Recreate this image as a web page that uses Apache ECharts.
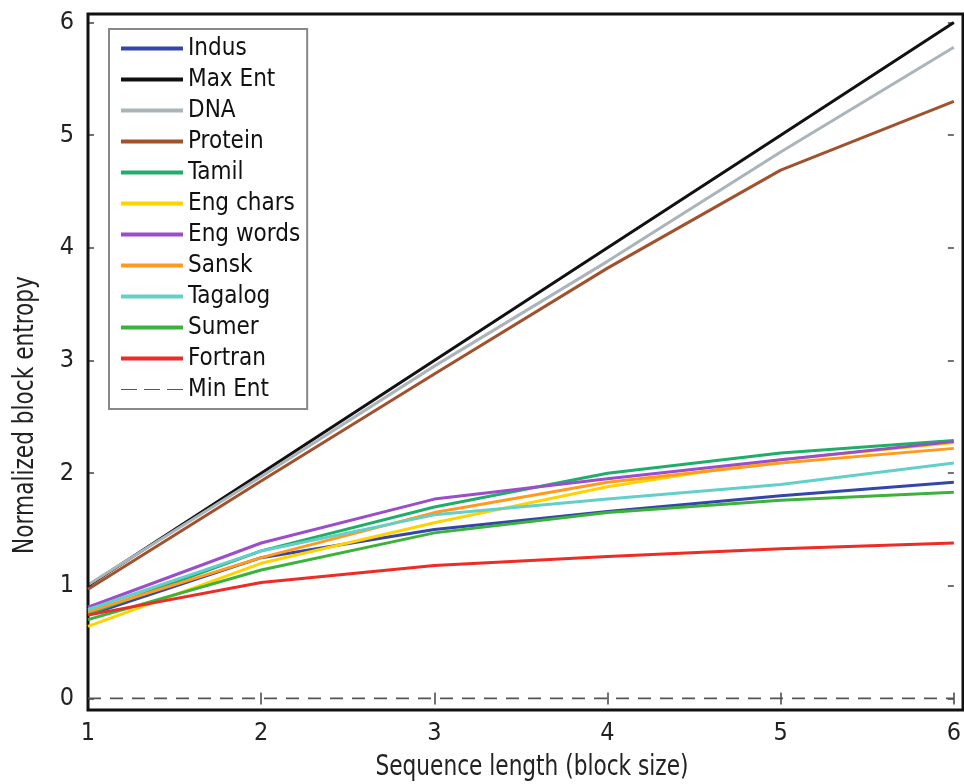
<!DOCTYPE html>
<html><head><meta charset="utf-8">
<script src="https://cdn.jsdelivr.net/npm/echarts@6/dist/echarts.min.js"></script>
<style>html,body{margin:0;padding:0;background:#fff}#c{width:964px;height:784px}</style>
</head><body><div id="c"></div>
<script>
var FONT = "'Liberation Sans Narrow','DejaVu Sans Condensed','Roboto',sans-serif";
var blockSizes = [1, 2, 3, 4, 5, 6];
var xTicks = [1, 2, 3, 4, 5, 6];
var yTicks = [0, 1, 2, 3, 4, 5, 6];
var seriesNames = ['Indus','Max Ent','DNA','Protein','Tamil','Eng chars','Eng words','Sansk','Tagalog','Sumer','Fortran','Min Ent'];
var indus    = [0.74, 1.25, 1.50, 1.66, 1.80, 1.92];
var maxEnt   = [1.00, 2.00, 3.00, 4.00, 5.00, 6.00];
var dna      = [1.01, 1.97, 2.95, 3.88, 4.85, 5.78];
var protein  = [0.97, 1.93, 2.88, 3.82, 4.69, 5.30];
var tamil    = [0.75, 1.31, 1.70, 2.00, 2.18, 2.29];
var engChars = [0.64, 1.20, 1.56, 1.88, 2.12, 2.27];
var engWords = [0.81, 1.38, 1.77, 1.95, 2.12, 2.28];
var sansk    = [0.77, 1.25, 1.65, 1.92, 2.09, 2.22];
var tagalog  = [0.79, 1.31, 1.63, 1.77, 1.90, 2.09];
var sumer    = [0.70, 1.14, 1.47, 1.65, 1.76, 1.83];
var fortran  = [0.74, 1.03, 1.18, 1.26, 1.33, 1.38];
var minEnt   = [0, 0, 0, 0, 0, 0];

var values = [indus, maxEnt, dna, protein, tamil, engChars, engWords, sansk, tagalog, sumer, fortran, minEnt];
var colors = ['#3446a8','#111111','#aab4b9','#a0522d','#1fae6a','#ffd200','#9b4dca','#ff9a1f','#62cfca','#3bb33b','#ee2b24','#555555'];

function pairs(arr){ return blockSizes.map(function(x,i){ return [x, arr[i]]; }); }

var series = seriesNames.map(function(n, i){
  var dashed = n === 'Min Ent';
  return {
    name: n, type: 'line', xAxisIndex: 0, yAxisIndex: 0,
    data: pairs(values[i]), symbol: 'none', silent: true,
    lineStyle: { color: colors[i], width: dashed ? 2 : 3, type: dashed ? [13, 9] : 'solid' },
    itemStyle: { color: colors[i] },
    z: 2 + i
  };
});

var DASH_ICON = 'path://M0,0H16V1H0Z M23,0H39V1H23Z M46,0H62V1H46Z';
var legendData = seriesNames.map(function(n){
  return { name: n, icon: n === 'Min Ent' ? DASH_ICON : 'rect' };
});

var chart = echarts.init(document.getElementById('c'), null, {renderer: 'canvas'});
chart.setOption({
  animation: false,
  backgroundColor: '#fff',
  grid: [
    { left: 88, right: 1, top: 22.5, bottom: 85.5, show: false },
    { left: 88, right: 1, top: 14, bottom: 74, show: true, borderColor: '#111', borderWidth: 3, backgroundColor: 'transparent', z: 5 }
  ],
  xAxis: [
    { type: 'value', gridIndex: 0, position: 'bottom', min: 1, max: 6, interval: 1, offset: 11.5,
      axisLine: { show: false }, splitLine: { show: false },
      axisTick: { show: true, inside: true, length: 6, lineStyle: { color: '#444', width: 1.5 } },
      axisLabel: { fontFamily: FONT, fontSize: 25, color: '#222', margin: 11,
        formatter: function(v){ return xTicks.indexOf(v) >= 0 ? String(v) : ''; } } },
    { type: 'value', gridIndex: 0, position: 'top', min: 1, max: 6, interval: 1, offset: 8.5,
      axisLine: { show: false }, splitLine: { show: false }, axisLabel: { show: false },
      axisTick: { show: true, inside: true, length: 6, lineStyle: { color: '#444', width: 1.5 } } },
    { type: 'value', gridIndex: 1, show: false, min: 0, max: 1 }
  ],
  yAxis: [
    { type: 'value', gridIndex: 0, position: 'left', min: 0, max: 6, interval: 1,
      axisLine: { show: false }, splitLine: { show: false },
      axisTick: { show: true, inside: true, length: 6, lineStyle: { color: '#444', width: 1.5 } },
      axisLabel: { fontFamily: FONT, fontSize: 25, color: '#222', margin: 14,
        formatter: function(v){ return yTicks.indexOf(v) >= 0 ? String(v) : ''; } } },
    { type: 'value', gridIndex: 0, position: 'right', min: 0, max: 6, interval: 1,
      axisLine: { show: false }, splitLine: { show: false }, axisLabel: { show: false },
      axisTick: { show: true, inside: true, length: 6, lineStyle: { color: '#444', width: 1.5 } } },
    { type: 'value', gridIndex: 1, show: false, min: 0, max: 1 }
  ],
  legend: {
    orient: 'vertical', left: 109, top: 29,
    data: legendData,
    itemWidth: 62, itemHeight: 4, itemGap: 6,
    padding: [7, 7, 7, 12],
    borderColor: '#888', borderWidth: 2, backgroundColor: '#fff',
    textStyle: { fontFamily: FONT, fontSize: 24, color: '#111', lineHeight: 25 },
    z: 10
  },
  graphic: [
    { type: 'text', x: 532, y: 768, scaleX: 0.86,
      style: { text: 'Sequence length (block size)', font: '28px ' + FONT, fill: '#222', align: 'center', verticalAlign: 'middle' } },
    { type: 'text', x: 26, y: 415, rotation: Math.PI / 2, scaleX: 0.86,
      style: { text: 'Normalized block entropy', font: '28px ' + FONT, fill: '#222', align: 'center', verticalAlign: 'middle' } }
  ],
  series: series
});
</script>
</body></html>
